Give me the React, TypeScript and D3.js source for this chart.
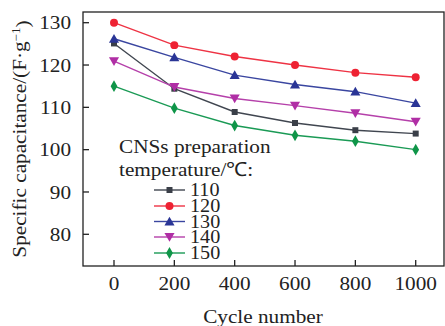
import React from "react";
import * as d3 from "d3";

const cycles = [0, 200, 400, 600, 800, 1000];
const temps = ["110", "120", "130", "140", "150"];
const cap110 = [125.1, 114.4, 108.9, 106.3, 104.6, 103.8];
const cap120 = [130, 124.7, 122, 120, 118.2, 117.1];
const cap130 = [126.2, 121.8, 117.6, 115.4, 113.7, 111];
const cap140 = [120.9, 114.8, 112.1, 110.4, 108.6, 106.6];
const cap150 = [115, 109.8, 105.7, 103.4, 102, 100];
const yTicks = [80, 90, 100, 110, 120, 130];

const seriesValues = [cap110, cap120, cap130, cap140, cap150];
const colors = ["#3a3f48", "#ee2233", "#2a3596", "#b02ea5", "#0f9548"];
const lineColors = ["#404650", "#ee3344", "#3a46a0", "#b540aa", "#1a9a55"];
const symbols = [d3.symbolSquare, d3.symbolCircle, d3.symbolTriangle, d3.symbolTriangle, d3.symbolDiamond];
const symbolSizes = [36, 50, 44, 44, 40];

const W = 445;
const H = 326;
const left = 83;
const top = 12;
const right = 444;
const bottom = 266;
const font = "'Liberation Serif', 'Times New Roman', serif";
const FS = 19.5;
const SX = 1.09; // reference glyphs are a bit wider than Liberation Serif

// text stretched horizontally around its anchor point
function T(props: { x: number; y: number; anchor?: string; size?: number; rotate?: number; children: any }) {
  const { x, y, anchor = "start", size = FS, rotate = 0, children } = props;
  return (
    <g transform={`translate(${x},${y}) rotate(${rotate}) scale(${SX},1)`}>
      <text dy="0.34em" textAnchor={anchor} fontSize={size} fill="#222">
        {children}
      </text>
    </g>
  );
}

export default function App() {
  const x = d3.scaleLinear().domain([0, 1000]).range([114, 415.7]);
  const y = d3.scaleLinear().domain([80, 130]).range([234.3, 22.7]);
  const line = d3
    .line<number>()
    .x((_, i) => x(cycles[i]))
    .y((d) => y(d));

  const marker = (k: number, cx: number, cy: number, key: string) => {
    const path = d3.symbol().type(symbols[k]).size(symbolSizes[k])();
    const rot = k === 3 ? 180 : 0;
    const dy = k === 2 ? 1 : k === 3 ? -1 : 0;
    return (
      <path
        key={key}
        d={path || ""}
        transform={`translate(${cx},${cy + dy}) rotate(${rot})`}
        fill={colors[k]}
      />
    );
  };

  const legendY = [190, 206, 221.5, 237, 253];

  return (
    <svg
      width={W}
      height={H}
      style={{ position: "absolute", left: 0, top: 0, background: "#fff" }}
      fontFamily={font}
    >
      <rect x={left} y={top} width={right - left} height={bottom - top} fill="none" stroke="#222" strokeWidth={1.3} />
      {yTicks.map((t) => (
        <g key={"y" + t}>
          <line x1={left} x2={left + 6} y1={y(t)} y2={y(t)} stroke="#222" strokeWidth={1.3} />
          <T x={left - 12} y={y(t)} anchor="end">{t}</T>
        </g>
      ))}
      {cycles.map((c) => (
        <g key={"x" + c}>
          <line x1={x(c)} x2={x(c)} y1={bottom} y2={bottom - 6} stroke="#222" strokeWidth={1.3} />
          <T x={x(c)} y={283} anchor="middle">{c}</T>
        </g>
      ))}
      <T x={263} y={316} anchor="middle">Cycle number</T>
      <T x={19} y={139} anchor="middle" rotate={-90}>
        Specific capacitance/(F·g
        <tspan dy="-0.45em" fontSize={12}>−1</tspan>
        <tspan dy="0.45em">)</tspan>
      </T>
      {seriesValues.map((vals, k) => (
        <g key={"s" + k}>
          <path d={line(vals) || ""} fill="none" stroke={lineColors[k]} strokeWidth={1.4} />
          {vals.map((v, i) => marker(k, x(cycles[i]), y(v), "m" + k + "-" + i))}
        </g>
      ))}
      <T x={119} y={146}>CNSs preparation</T>
      <T x={119} y={169}>temperature/℃:</T>
      {temps.map((t, k) => (
        <g key={"l" + t}>
          <line x1={154} x2={185} y1={legendY[k]} y2={legendY[k]} stroke={lineColors[k]} strokeWidth={1.4} />
          {marker(k, 169.5, legendY[k], "lm" + k)}
          <T x={190} y={legendY[k]} size={18.5}>{t}</T>
        </g>
      ))}
    </svg>
  );
}
